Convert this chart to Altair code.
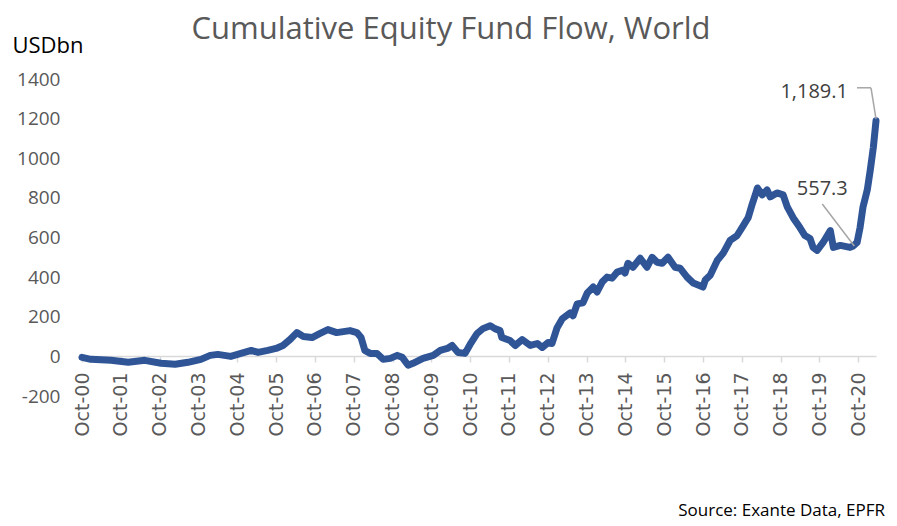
import altair as alt
import pandas as pd

# ---- data ----
dates = [
    "2000-10-01", "2000-12-23", "2001-07-01", "2001-12-10", "2002-05-15", "2002-10-15",
    "2003-02-25", "2003-06-25", "2003-10-25", "2004-01-20", "2004-04-01", "2004-08-01",
    "2004-11-05", "2005-02-10", "2005-04-15", "2005-07-15", "2005-10-01", "2005-12-05",
    "2006-02-10", "2006-04-15", "2006-06-15", "2006-09-05", "2006-11-15", "2007-02-01",
    "2007-04-25", "2007-08-28", "2007-11-01", "2007-12-10", "2008-01-15", "2008-03-05",
    "2008-05-08", "2008-07-05", "2008-09-10", "2008-11-15", "2009-01-01", "2009-02-25",
    "2009-04-12", "2009-07-15", "2009-10-20", "2009-12-25", "2010-03-01", "2010-04-15",
    "2010-06-10", "2010-08-15", "2010-10-01", "2010-12-05", "2011-01-30", "2011-04-08",
    "2011-05-22", "2011-07-10", "2011-07-27", "2011-10-12", "2011-11-30", "2012-02-03",
    "2012-04-20", "2012-06-25", "2012-08-10", "2012-10-05", "2012-11-10", "2012-12-28",
    "2013-02-15", "2013-05-01", "2013-05-27", "2013-07-05", "2013-08-28", "2013-10-08",
    "2013-12-03", "2014-01-08", "2014-02-25", "2014-04-12", "2014-05-30", "2014-07-15",
    "2014-09-10", "2014-09-28", "2014-10-26", "2014-12-12", "2015-02-18", "2015-04-23",
    "2015-06-10", "2015-07-27", "2015-09-13", "2015-11-07", "2016-01-12", "2016-02-28",
    "2016-05-04", "2016-07-01", "2016-10-01", "2016-10-22", "2016-12-08", "2017-02-13",
    "2017-04-08", "2017-06-13", "2017-08-18", "2017-10-15", "2017-11-30", "2018-01-08",
    "2018-02-05", "2018-02-25", "2018-04-12", "2018-05-27", "2018-06-25", "2018-08-28",
    "2018-10-25", "2018-12-03", "2019-01-27", "2019-04-01", "2019-05-18", "2019-07-05",
    "2019-08-03", "2019-09-10", "2019-11-05", "2020-01-12", "2020-02-10", "2020-04-15",
    "2020-07-15", "2020-08-15", "2020-09-20", "2020-10-18", "2020-11-15", "2020-12-25",
    "2021-01-22", "2021-02-20", "2021-03-17",
]
values = [
    -5, -15, -20, -30, -20, -35,
    -40, -30, -15, 5, 10, 0,
    15, 30, 20, 30, 40, 55,
    85, 120, 100, 95, 115, 135,
    120, 130, 120, 95, 30, 15,
    15, -15, -10, 5, -5, -45,
    -35, -10, 5, 30, 40, 55,
    20, 15, 60, 115, 140, 155,
    140, 130, 95, 80, 55, 85,
    55, 65, 45, 70, 65, 145,
    190, 220, 205, 265, 270, 320,
    350, 325, 375, 400, 395, 425,
    435, 420, 470, 450, 495, 450,
    500, 475, 470, 500, 450, 445,
    400, 370, 350, 385, 410, 485,
    520, 585, 610, 660, 700, 770,
    815, 850, 815, 840, 805, 825,
    815, 755, 700, 650, 610, 595,
    550, 535, 575, 635, 550, 560,
    550, 557.3, 575, 650, 755, 840,
    940, 1055, 1189.1,
]
tick_years = list(range(2000, 2021))
y_ticks = [-200, 0, 200, 400, 600, 800, 1000, 1200, 1400]

title_text = "Cumulative Equity Fund Flow, World"
unit_text = "USDbn"
source_text = "Source: Exante Data, EPFR"

ann_end_date, ann_end_value, ann_end_label = "2021-03-17", 1189.1, "1,189.1"
ann_low_date, ann_low_value, ann_low_label = "2020-08-15", 557.3, "557.3"

df = pd.DataFrame({"date": dates, "value": values})
ann_end = pd.DataFrame({"date": [ann_end_date], "value": [ann_end_value], "label": [ann_end_label]})
ann_low = pd.DataFrame({"date": [ann_low_date], "value": [ann_low_value], "label": [ann_low_label]})

FONT = "Open Sans"
GREY = "#595959"
LINE = "#2F5597"
LEADER = "#A6A6A6"

x_scale = alt.Scale(
    type="utc",
    domain=[alt.DateTime(year=2000, month=10, date=1, utc=True),
            alt.DateTime(year=2021, month=3, date=17, utc=True)],
)
y_scale = alt.Scale(domain=[-200, 1400], nice=False, zero=False)

x_axis = alt.Axis(
    values=[alt.DateTime(year=y, month=10, date=1, utc=True) for y in tick_years],
    format="%b-%y",
    labelAngle=-90,
    labelFont="DejaVu Sans",
    labelFontSize=19,
    labelColor=GREY,
    labelPadding=10,
    labelOverlap=False,
    labelFlush=False,
    offset=-40,
    domainColor="#D9D9D9",
    domainWidth=1.5,
    tickColor="#D9D9D9",
    tickWidth=1.5,
    tickSize=6,
    grid=False,
    title=None,
)
y_axis = alt.Axis(
    values=y_ticks,
    labelExpr="'' + datum.value",
    grid=False,
    domain=False,
    ticks=False,
    labelOverlap=False,
    labelFlush=False,
    labelFont=FONT,
    labelFontSize=19,
    labelColor=GREY,
    labelPadding=22,
    title=unit_text,
    titleAngle=0,
    titleAlign="left",
    titleBaseline="middle",
    titleX=-70,
    titleY=-34,
    titleFont=FONT,
    titleFontSize=22,
    titleFontWeight="normal",
    titleColor="#000000",
)

X = alt.X("date:T", scale=x_scale, axis=x_axis)
Y = alt.Y("value:Q", scale=y_scale, axis=y_axis)

line = alt.Chart(df).mark_line(color=LINE, strokeWidth=7, strokeJoin="round", strokeCap="round").encode(
    x=X, y=Y,
)

def leader(data, xo, yo, x2o, y2o):
    return alt.Chart(data).mark_rule(
        color=LEADER, strokeWidth=1.5, xOffset=xo, yOffset=yo, x2Offset=x2o, y2Offset=y2o
    ).encode(x=X, x2="date:T", y=Y, y2="value:Q")

lead1a = leader(ann_end, 0, -2, -5, -33)
lead1b = leader(ann_end, -5, -33, -19, -33)
lead2 = leader(ann_low, 1, 0, -31, -42)

txt1 = alt.Chart(ann_end).mark_text(
    font=FONT, fontSize=20, color="#404040", align="right", baseline="middle", dx=-28, dy=-29
).encode(x=X, y=Y, text="label:N")
txt2 = alt.Chart(ann_low).mark_text(
    font=FONT, fontSize=20, color="#404040", align="center", baseline="middle", dx=-31, dy=-57
).encode(x=X, y=Y, text="label:N")

title = alt.Chart(pd.DataFrame({"t": [title_text]})).mark_text(
    font=FONT, fontSize=31, color=GREY, align="center", baseline="middle"
).encode(x=alt.value(369), y=alt.value(-49), text="t:N")

source = alt.Chart(pd.DataFrame({"t": [source_text]})).mark_text(
    font=FONT, fontSize=17, color="#000000", align="right", baseline="middle"
).encode(x=alt.value(803), y=alt.value(432), text="t:N")

chart = alt.layer(line, lead1a, lead1b, lead2, txt1, txt2, title, source).properties(
    width=794,
    height=317,
    autosize="none",
    background="white",
    padding={"left": 82, "top": 79, "right": 21, "bottom": 130},
).configure_axis(labelOverlap=False).configure_view(strokeWidth=0, stroke="transparent")

chart.save("out.html", embed_options={"renderer": "svg", "actions": False})
